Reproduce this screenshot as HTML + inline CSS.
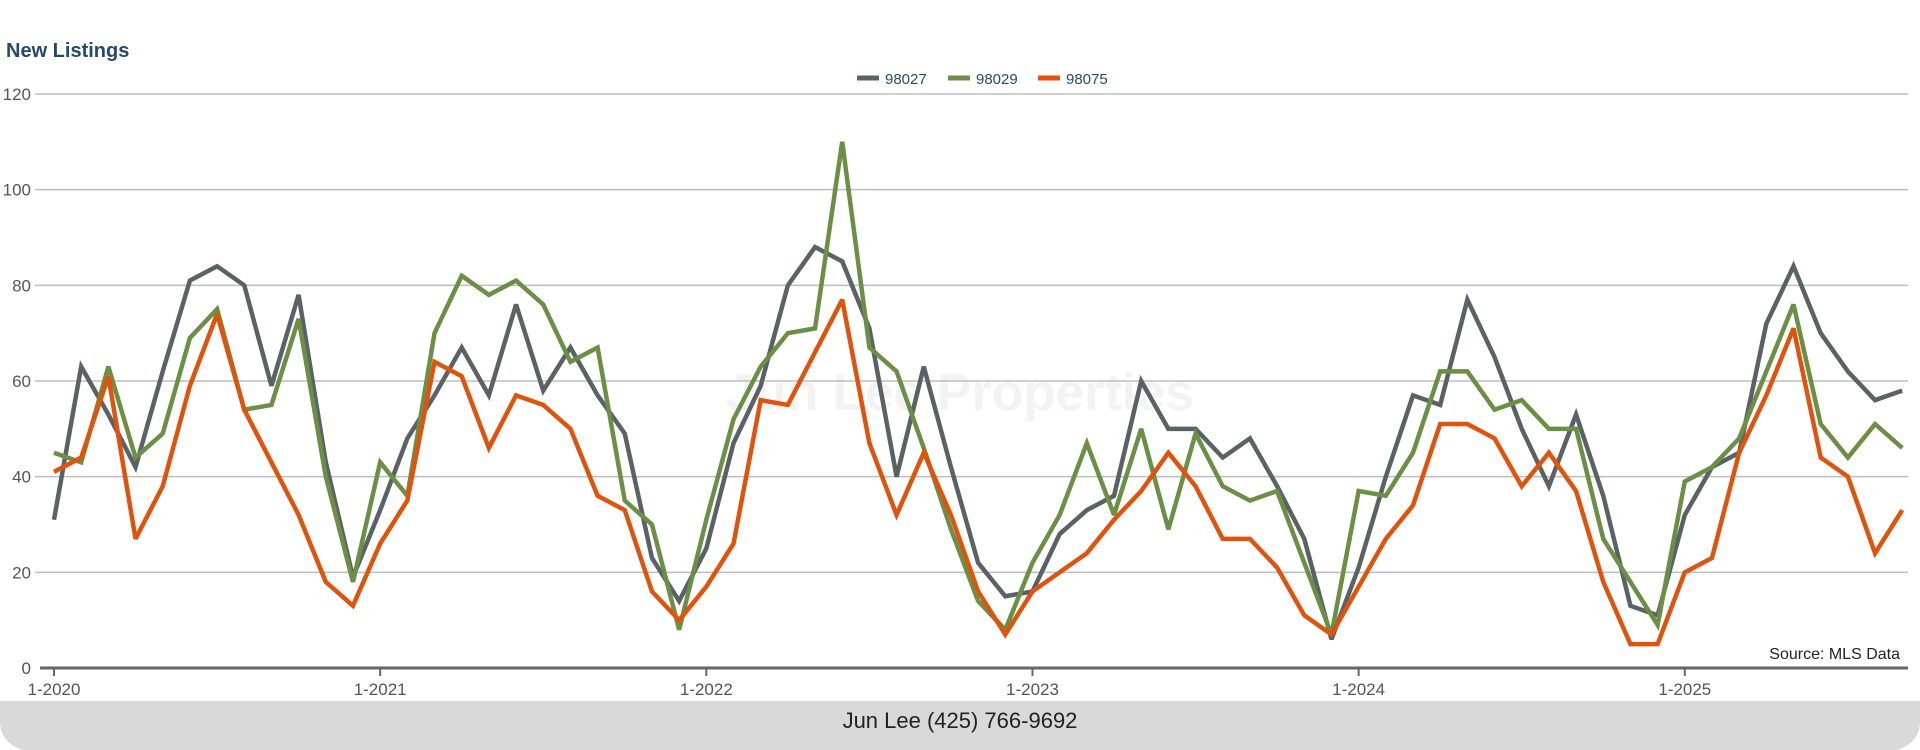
<!DOCTYPE html>
<html><head><meta charset="utf-8"><style>
html,body{margin:0;padding:0;background:#fff;}
body{width:1920px;height:750px;position:relative;overflow:hidden;font-family:"Liberation Sans",sans-serif;}
#title{position:absolute;left:6px;top:40px;font-size:20px;font-weight:bold;color:#234a6e;}
#footer{position:absolute;left:0;top:701px;width:1920px;height:49px;background:#d9d9d9;border-radius:0 0 28px 28px;text-align:center;font-size:22px;line-height:40px;color:#222;}
</style></head><body>
<div id="title">New Listings</div>
<svg id="chart" width="1920" height="700" style="position:absolute;left:0;top:0"></svg>
<div id="footer">Jun Lee (425) 766-9692</div>
<script>
const months = 69;
const xTickLabels = ["1-2020","1-2021","1-2022","1-2023","1-2024","1-2025"];
const yTicks = [0,20,40,60,80,100,120];
const seriesNames = ["98027","98029","98075"];
const s98027 = [31,63,53,42,62,81,84,80,59,78,43,19, 33,48,57,67,57,76,58,67,57,49,23,14, 25,47,59,80,88,85,71,40,63,42,22,15, 16,28,33,36,60,50,50,44,48,38,27,6, 21,40,57,55,77,65,50,38,53,36,13,11, 32,42,45,72,84,70,62,56,58];
const s98029 = [45,43,63,44,49,69,75,54,55,73,40,18, 43,36,70,82,78,81,76,64,67,35,30,8, 31,52,63,70,71,110,67,62,46,29,14,8, 22,32,47,32,50,29,49,38,35,37,22,7, 37,36,45,62,62,54,56,50,50,27,18,9, 39,42,48,62,76,51,44,51,46];
const s98075 = [41,44,61,27,38,59,74,54,43,32,18,13, 26,35,64,61,46,57,55,50,36,33,16,10, 17,26,56,55,66,77,47,32,45,32,16,7, 16,20,24,31,37,45,38,27,27,21,11,7, 17,27,34,51,51,48,38,45,37,18,5,5, 20,23,45,57,71,44,40,24,33];
const colors = ["#5a6266","#6b8f45","#e0530c"];

const NS="http://www.w3.org/2000/svg";
const svg=document.getElementById('chart');
const X0=54, MW=27.18, Y0=668, YS=(668-94)/120;
const xs=i=>X0+i*MW, ys=v=>Y0-v*YS;
function mk(t,a){const e=document.createElementNS(NS,t);for(const k in a)e.setAttribute(k,a[k]);svg.appendChild(e);return e;}

const wm=mk('text',{x:960,y:410,'text-anchor':'middle','font-size':52,'font-weight':'bold',fill:'#f3f3f3','font-family':'Liberation Sans, sans-serif'});
wm.textContent='Jun Lee Properties';



yTicks.forEach(v=>{
  if(v>0){const g=mk('line',{x1:35,x2:1908,y1:ys(v),y2:ys(v),stroke:'#bdbdbd','stroke-width':1.5});
  
  }
  const t=mk('text',{x:31,y:ys(v)+6,'text-anchor':'end','font-size':17,fill:'#555','font-family':'Liberation Sans, sans-serif'});
  t.textContent=v;
  
  
});
const ax=mk('line',{x1:40,x2:1908,y1:Y0,y2:Y0,stroke:'#666','stroke-width':3});


xTickLabels.forEach((l,i)=>{
  const x=xs(i*12);
  const tk=mk('line',{x1:x,x2:x,y1:Y0,y2:Y0+8,stroke:'#666','stroke-width':2});
  
  
  const t=mk('text',{x:x,y:Y0+27,'text-anchor':'middle','font-size':17,fill:'#555','font-family':'Liberation Sans, sans-serif'});
  t.textContent=l;
  
  
});
[s98027,s98029,s98075].forEach((s,k)=>{
  const p=mk('polyline',{points:s.map((v,i)=>xs(i)+','+ys(v)).join(' '),fill:'none',stroke:colors[k],'stroke-width':4.5,'stroke-linejoin':'miter','stroke-miterlimit':3});
  
  
});
const lx=[857,948,1038];
seriesNames.forEach((n,k)=>{
  const l=mk('line',{x1:lx[k],x2:lx[k]+22,y1:78,y2:78,stroke:colors[k],'stroke-width':5});
  
  
  const t=mk('text',{x:lx[k]+28,y:84,'font-size':15,fill:'#234a6e','font-family':'Liberation Sans, sans-serif'});
  t.textContent=n;
  
  
});
const src=mk('text',{x:1900,y:659,'text-anchor':'end','font-size':16,fill:'#222','font-family':'Liberation Sans, sans-serif'});
src.textContent='Source: MLS Data';


</script>
</body></html>
